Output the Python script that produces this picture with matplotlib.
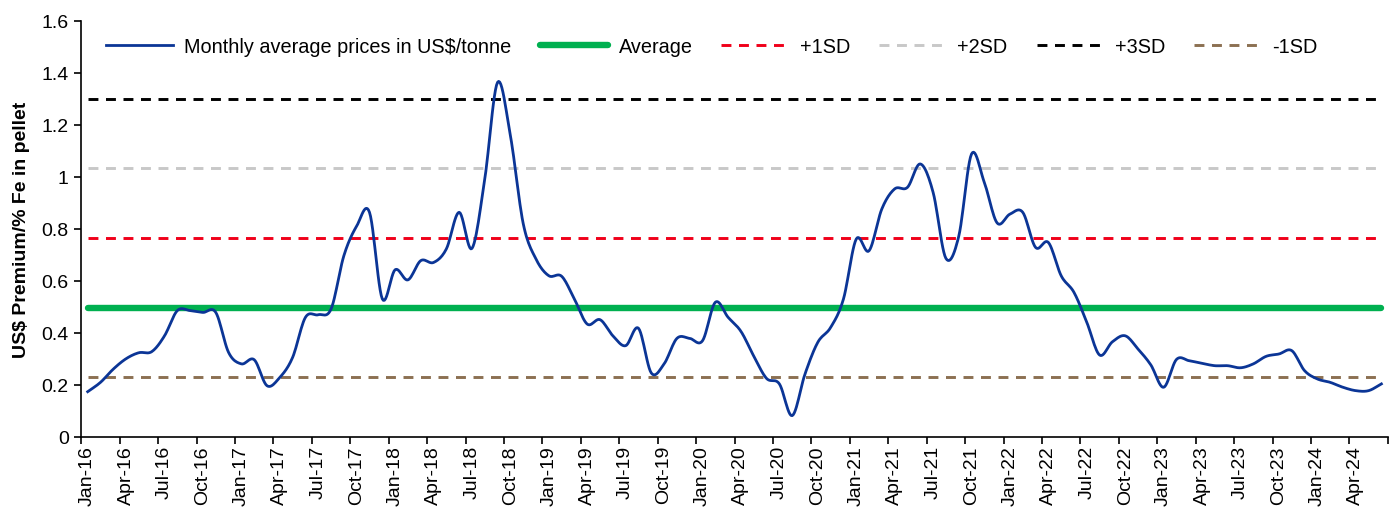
import numpy as np
import matplotlib
matplotlib.use("Agg")
import matplotlib.pyplot as plt

plt.rcParams["font.family"] = ["Liberation Sans", "DejaVu Sans"]

# monthly premium, Jan-16 .. Jun-24 (US$/% Fe in pellet)
months = ["Jan", "Feb", "Mar", "Apr", "May", "Jun",
          "Jul", "Aug", "Sep", "Oct", "Nov", "Dec"]
categories = [f"{m}-{y}" for y in range(16, 25) for m in months][:102]

premium = [
    0.173, 0.209, 0.260, 0.300, 0.323, 0.327, 0.388, 0.485, 0.485, 0.478,
    0.478, 0.324, 0.280, 0.296, 0.196, 0.228, 0.305, 0.459, 0.469, 0.491,
    0.696, 0.810, 0.863, 0.530, 0.642, 0.603, 0.677, 0.670, 0.722, 0.863,
    0.724, 0.991, 1.363, 1.158, 0.820, 0.683, 0.619, 0.617, 0.529, 0.433,
    0.450, 0.388, 0.350, 0.417, 0.245, 0.280, 0.378, 0.378, 0.369, 0.517,
    0.459, 0.405, 0.310, 0.224, 0.203, 0.081, 0.241, 0.363, 0.420, 0.529,
    0.760, 0.715, 0.876, 0.953, 0.959, 1.049, 0.940, 0.686, 0.770, 1.087,
    0.978, 0.822, 0.856, 0.863, 0.728, 0.747, 0.619, 0.555, 0.440, 0.314,
    0.365, 0.388, 0.337, 0.276, 0.190, 0.297, 0.292, 0.282, 0.273, 0.273,
    0.265, 0.280, 0.309, 0.318, 0.331, 0.254, 0.222, 0.209, 0.190, 0.177,
    0.177, 0.203,
]

average = 0.496
sd_levels = {"+1SD": 0.764, "+2SD": 1.032, "+3SD": 1.300, "-1SD": 0.228}
sd_colors = {"+1SD": "#F0001A", "+2SD": "#C8C8C8", "+3SD": "#000000",
             "-1SD": "#8C7052"}


def smooth(y, steps=12):
    # Catmull-Rom through every monthly point, like a smoothed Excel line
    y = np.asarray(y, dtype=float)
    p = np.concatenate([[2 * y[0] - y[1]], y, [2 * y[-1] - y[-2]]])
    xs, ys = [], []
    t = np.linspace(0, 1, steps, endpoint=False)
    for i in range(len(y) - 1):
        p0, p1, p2, p3 = p[i], p[i + 1], p[i + 2], p[i + 3]
        seg = 0.5 * ((2 * p1) + (-p0 + p2) * t
                     + (2 * p0 - 5 * p1 + 4 * p2 - p3) * t ** 2
                     + (-p0 + 3 * p1 - 3 * p2 + p3) * t ** 3)
        xs.extend(i + t)
        ys.extend(seg)
    xs.append(len(y) - 1)
    ys.append(y[-1])
    return np.array(xs), np.array(ys)


n = len(premium)
x = np.arange(n)
sx, sy = smooth(premium)

fig = plt.figure(figsize=(13.99, 5.10), dpi=100)
ax = fig.add_axes([0.0581, 0.1418, 0.9339, 0.8157])

ax.plot(sx, sy, color="#0B3596", lw=2.0,
        label="Monthly average prices in US$/tonne", zorder=5)
ax.plot(x, [average] * n, color="#00B050", lw=4.6,
        solid_capstyle="round", label="Average", zorder=4)
for name, level in sd_levels.items():
    ax.plot(x, [level] * n, color=sd_colors[name], lw=2.1,
            dashes=(3.4, 2.6), label=name, zorder=3)

ax.set_xlim(-0.5, n - 0.5)
ax.set_ylim(0, 1.6)
ax.set_yticks(np.arange(0, 1.61, 0.2))
ax.set_yticklabels(["0", "0.2", "0.4", "0.6", "0.8", "1",
                    "1.2", "1.4", "1.6"])
ax.set_xticks(np.arange(-0.5, n, 3))
ax.set_xticklabels([])
ax.set_xticks(x[::3], [categories[i] for i in x[::3]], minor=True,
              rotation=90)
ax.tick_params(axis="x", which="minor", length=0, pad=6, labelsize=14)
ax.tick_params(axis="x", which="major", length=5, width=1.2)
ax.tick_params(axis="y", length=5, width=1.2, labelsize=14, pad=4)

for side in ("top", "right"):
    ax.spines[side].set_visible(False)
for side in ("left", "bottom"):
    ax.spines[side].set_linewidth(1.2)

ax.set_ylabel("US$ Premium/% Fe in pellet", fontsize=14, fontweight="bold",
              labelpad=8)

ax.legend(loc="upper left", bbox_to_anchor=(0.008, 0.995), ncol=6,
          frameon=False, fontsize=14.3, handlelength=3.4, columnspacing=1.45,
          handletextpad=0.55, borderaxespad=0.3)

fig.savefig("out.png", dpi=100, facecolor="white")
